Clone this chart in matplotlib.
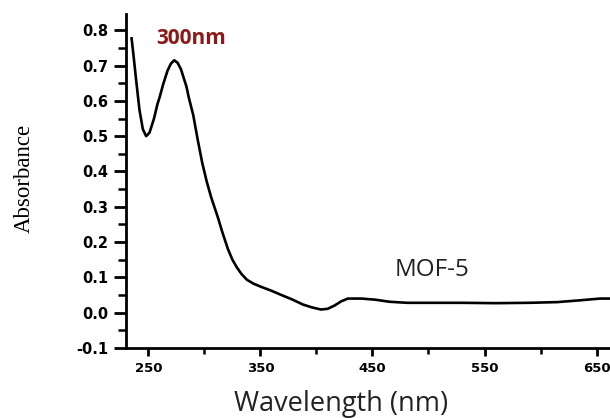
import numpy as np
from matplotlib import pyplot as plt

# UV-Vis absorbance of MOF-5
wavelength = [235, 237, 239, 242, 245, 248, 251, 255, 258, 260, 263, 267, 270,
              273, 276, 279, 281, 284, 286, 290, 294, 298, 302, 306, 312, 316,
              321, 325, 329, 333, 338, 344, 350, 360, 368, 378, 388, 396, 404,
              410, 416, 422, 428, 440, 452, 465, 481, 500, 530, 560, 590, 615,
              635, 653, 662]
absorbance = [0.777, 0.72, 0.66, 0.575, 0.52, 0.50, 0.51, 0.55, 0.59, 0.61,
              0.645, 0.685, 0.705, 0.715, 0.708, 0.69, 0.67, 0.64, 0.61, 0.56,
              0.49, 0.425, 0.372, 0.327, 0.27, 0.228, 0.18, 0.15, 0.128, 0.11,
              0.093, 0.082, 0.074, 0.062, 0.051, 0.038, 0.023, 0.015, 0.009,
              0.011, 0.02, 0.032, 0.04, 0.04, 0.037, 0.031, 0.028, 0.028, 0.028,
              0.027, 0.028, 0.03, 0.035, 0.04, 0.04]

xtick_major = [250, 350, 450, 550, 650]
xtick_minor = [300, 400, 500, 600]
ytick_major = [-0.1, 0.0, 0.1, 0.2, 0.3, 0.4, 0.5, 0.6, 0.7, 0.8]

fig = plt.figure(figsize=(6.1, 4.18), dpi=100)
ax = fig.add_axes([126 / 610, 1 - 348 / 418, 1 - 126 / 610, (348 - 14) / 418])

ax.plot(wavelength, absorbance, color='black', linewidth=1.9)

ax.set_xlim(230, 662)
ax.set_ylim(-0.1, 0.846)
ax.set_xticks(xtick_major)
ax.set_xticks(xtick_minor, minor=True)
ax.set_yticks(ytick_major)
ax.set_yticks(np.arange(-0.05, 0.8, 0.1), minor=True)
ax.set_yticklabels(['%.1f' % v for v in ytick_major])

for s in ['top', 'right']:
    ax.spines[s].set_visible(False)
for s in ['left', 'bottom']:
    ax.spines[s].set_linewidth(2)

ax.tick_params(axis='y', which='major', width=2, length=9, pad=4, labelsize=10.5)
ax.tick_params(axis='y', which='minor', length=5.5, width=1.8)
ax.tick_params(axis='x', which='major', width=2, length=6, pad=4, labelsize=9.5)
ax.tick_params(axis='x', which='minor', length=4, width=1.8)
for lab in ax.get_xticklabels() + ax.get_yticklabels():
    lab.set_fontweight('bold')

fig.text(24 / 610, 1 - 178 / 418, 'Absorbance', rotation=90, ha='center',
         va='center', family='Liberation Serif', fontsize=16.5)
fig.text(341 / 610, 1 - 404 / 418, 'Wavelength (nm)', ha='center',
         va='center', family='Open Sans', fontsize=19.5, color='#222222')
ax.text(503, 0.122, 'MOF-5', ha='center', va='center', family='Open Sans',
        fontsize=17.5, color='#222222')
ax.text(288, 0.776, '300nm', ha='center', va='center', family='Open Sans',
        fontsize=15, fontweight='bold', color='#8b1a1a')

fig.savefig('out.png', dpi=100)
